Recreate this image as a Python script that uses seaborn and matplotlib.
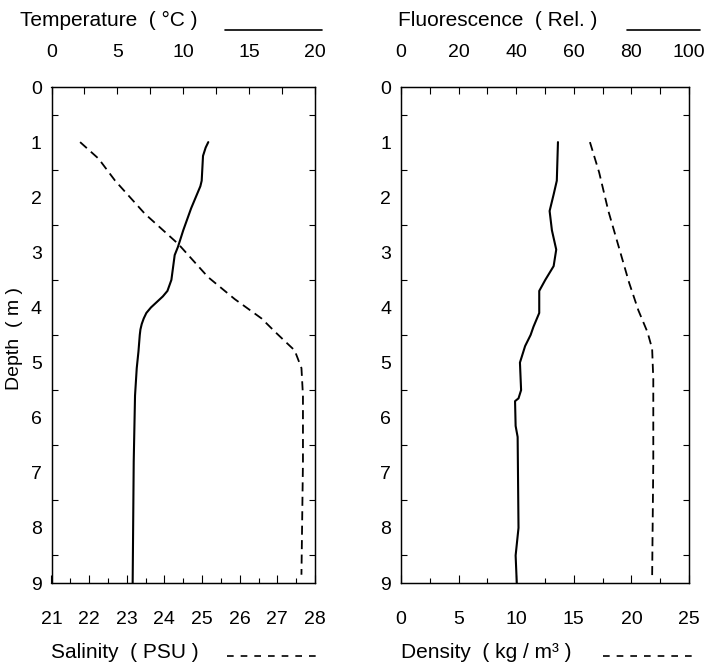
import matplotlib
matplotlib.use("Agg")
import matplotlib.pyplot as plt
import seaborn as sns
import pandas as pd
from matplotlib.lines import Line2D
from matplotlib.ticker import MultipleLocator

sns.set_theme(style="white")
plt.rcParams['font.family'] = ['Liberation Sans', 'DejaVu Sans']

# ---- data ----
temp_depth = [1.0, 1.1, 1.25, 1.7, 1.8, 2.2, 2.6, 2.9, 3.05, 3.5, 3.7, 3.8, 3.9, 4.0, 4.1, 4.2, 4.3, 4.4, 4.5, 4.8, 5.1, 5.6, 6.8, 9.0]
temp_vals = [11.9, 11.7, 11.5, 11.4, 11.3, 10.6, 10.0, 9.6, 9.35, 9.1, 8.8, 8.45, 8.0, 7.55, 7.2, 7.0, 6.85, 6.75, 6.7, 6.6, 6.47, 6.34, 6.24, 6.16]

sal_depth = [1.0, 1.3, 1.7, 2.3, 2.85, 3.45, 3.85, 4.2, 4.45, 4.58, 4.78, 5.1, 5.6, 6.8, 8.85]
sal_vals = [21.76, 22.25, 22.69, 23.48, 24.37, 25.16, 25.87, 26.58, 26.95, 27.15, 27.46, 27.64, 27.68, 27.68, 27.64]

fluo_depth = [1.0, 1.7, 1.95, 2.25, 2.6, 2.95, 3.25, 3.5, 3.7, 4.1, 4.35, 4.5, 4.7, 5.0, 5.5, 5.65, 5.7, 6.15, 6.35, 8.0, 8.5, 9.0]
fluo_vals = [54.5, 54.1, 53.0, 51.6, 52.4, 53.9, 53.0, 50.1, 48.0, 48.0, 46.0, 45.0, 43.1, 41.3, 41.7, 40.8, 39.6, 39.8, 40.5, 40.8, 39.8, 40.2]

dens_depth = [1.0, 1.55, 2.25, 2.9, 3.55, 4.05, 4.45, 4.75, 5.3, 6.8, 8.9]
dens_vals = [16.4, 17.2, 18.0, 18.9, 19.8, 20.6, 21.4, 21.8, 21.9, 21.9, 21.8]

depth_ticks = list(range(0, 10))

temp_df = pd.DataFrame({"depth": temp_depth, "val": temp_vals})
sal_df = pd.DataFrame({"depth": sal_depth, "val": sal_vals})
fluo_df = pd.DataFrame({"depth": fluo_depth, "val": fluo_vals})
dens_df = pd.DataFrame({"depth": dens_depth, "val": dens_vals})

W, H = 710, 668
FS = 14
TFS = 15
fig = plt.figure(figsize=(W / 100, H / 100), dpi=100)
fig.patch.set_facecolor("white")

top_px, bot_px = 87, 583
ax1 = fig.add_axes([51.5 / W, 1 - bot_px / H, 263.5 / W, (bot_px - top_px) / H])
ax2 = fig.add_axes([401 / W, 1 - bot_px / H, 288 / W, (bot_px - top_px) / H])


def style_axes(ax, top, xlim, tlim, xmaj, xmin, tmaj, tmin):
    for a in (ax, top):
        for s in a.spines.values():
            s.set_color("black")
            s.set_linewidth(0.9)
        a.set_facecolor("none")
    ax.set_xlim(*xlim)
    top.set_xlim(*tlim)
    ax.set_ylim(9, 0)
    ax.set_yticks(depth_ticks)
    ax.yaxis.set_minor_locator(MultipleLocator(0.5))
    ax.xaxis.set_major_locator(MultipleLocator(xmaj))
    ax.xaxis.set_minor_locator(MultipleLocator(xmin))
    top.xaxis.set_major_locator(MultipleLocator(tmaj))
    top.xaxis.set_minor_locator(MultipleLocator(tmin))
    ax.tick_params(axis="x", which="major", direction="in", length=6, width=0.8,
                   color="black", labelsize=FS, pad=20, bottom=True, top=False)
    ax.tick_params(axis="x", which="minor", direction="in", length=3.5, width=0.8,
                   color="black", bottom=True, top=False)
    top.tick_params(axis="x", which="major", direction="in", length=5, width=0.8,
                    color="black", labelsize=FS, pad=19, top=True, bottom=False)
    top.tick_params(axis="x", which="minor", direction="in", length=5, width=0.8,
                    color="black", top=True, bottom=False)
    ax.tick_params(axis="y", which="major", direction="in", length=0, labelsize=FS,
                   pad=7, left=True, right=False)
    ax.tick_params(axis="y", which="minor", direction="in", length=4, width=0.8,
                   color="black", left=True, right=True)
    ax.set_xlabel("")
    ax.set_ylabel("")
    top.set_xlabel("")
    top.set_ylabel("")
    for lab in ax.get_xticklabels() + ax.get_yticklabels() + top.get_xticklabels():
        lab.set_color("black")


# Left panel
ax1t = ax1.twiny()
sns.lineplot(data=sal_df, x="val", y="depth", ax=ax1, sort=False, estimator=None,
             color="black", lw=1.3, linestyle=(0, (5, 3)))
sns.lineplot(data=temp_df, x="val", y="depth", ax=ax1t, sort=False, estimator=None,
             color="black", lw=1.5)
style_axes(ax1, ax1t, (21, 28), (0, 20), 1, 0.5, 5, 2.5)
ax1.set_ylim(9, 0)

# Right panel
ax2t = ax2.twiny()
sns.lineplot(data=dens_df, x="val", y="depth", ax=ax2, sort=False, estimator=None,
             color="black", lw=1.3, linestyle=(0, (5, 3)))
sns.lineplot(data=fluo_df, x="val", y="depth", ax=ax2t, sort=False, estimator=None,
             color="black", lw=1.5)
style_axes(ax2, ax2t, (0, 25), (0, 100), 5, 2.5, 20, 10)
ax2.set_ylim(9, 0)

# Axis titles with line samples
def ftxt(x, y, s, **kw):
    fig.text(x / W, 1 - y / H, s, fontsize=TFS, color="black", va="center", ha="left", **kw)

def fline(x0, x1, y, dashed=False):
    ls = (0, (4, 4.2)) if dashed else "-"
    fig.add_artist(Line2D([x0 / W, x1 / W], [1 - y / H, 1 - y / H], color="black",
                          lw=1.2, linestyle=ls, transform=fig.transFigure))

ftxt(20, 20, "Temperature  ( °C )")
fline(225, 322, 30)
ftxt(398, 20, "Fluorescence  ( Rel. )")
fline(627, 700, 30)
ftxt(51, 653, "Salinity  ( PSU )")
fline(227, 318, 656, dashed=True)
ftxt(401, 653, "Density  ( kg / m³ )")
fline(603, 696, 656, dashed=True)

fig.text(15 / W, 1 - 338 / H, "Depth  ( m )", fontsize=FS, color="black",
         rotation=90, va="center", ha="center")

fig.savefig("out.png", dpi=100, facecolor="white")
